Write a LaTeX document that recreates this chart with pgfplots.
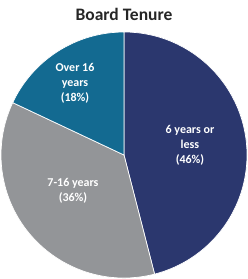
\documentclass[border=0pt]{standalone}
\usepackage{pgfplots}
\pgfplotsset{compat=1.18}
\usepackage{fontspec}
\setmainfont{Carlito}
\definecolor{cnavy}{HTML}{2B376E}
\definecolor{cgray}{HTML}{939598}
\definecolor{cblue}{HTML}{136A91}
\definecolor{ctitle}{HTML}{262626}
\begin{document}
\begin{tikzpicture}
\begin{axis}[
  hide axis, scale only axis, clip=false,
  x=1pt, y=1pt,
  xmin=0, xmax=248, ymin=0, ymax=279,
  anchor=origin, at={(0,0)},
]
% slices: 46, 36, 18 percent, clockwise from top
\fill[cnavy, draw=white, line width=0.7pt] (axis cs:124,124) -- ++(90:123pt)
  arc[start angle=90, end angle={90-46*3.6}, radius=123pt] -- cycle;
\fill[cgray, draw=white, line width=0.7pt] (axis cs:124,124) -- ++({90-46*3.6}:123pt)
  arc[start angle={90-46*3.6}, end angle={90-(46+36)*3.6}, radius=123pt] -- cycle;
\fill[cblue, draw=white, line width=0.7pt] (axis cs:124,124) -- ++({90-(46+36)*3.6}:123pt)
  arc[start angle={90-(46+36)*3.6}, end angle={90-100*3.6}, radius=123pt] -- cycle;
\node[text=ctitle, font=\fontsize{17.5}{20}\selectfont\bfseries] at (axis cs:124,265) {Board Tenure};
\node[text=white, align=center, font=\fontsize{12}{15}\selectfont\bfseries] at (axis cs:190,134) {6 years or\\less\\(46\%)};
\node[text=white, align=center, font=\fontsize{12}{15}\selectfont\bfseries] at (axis cs:73,88) {7-16 years\\(36\%)};
\node[text=white, align=center, font=\fontsize{12}{15}\selectfont\bfseries] at (axis cs:75,196) {Over 16\\years\\(18\%)};
\end{axis}
\pgfresetboundingbox
\path (0,0) rectangle (248pt,279pt);
\end{tikzpicture}
\end{document}
